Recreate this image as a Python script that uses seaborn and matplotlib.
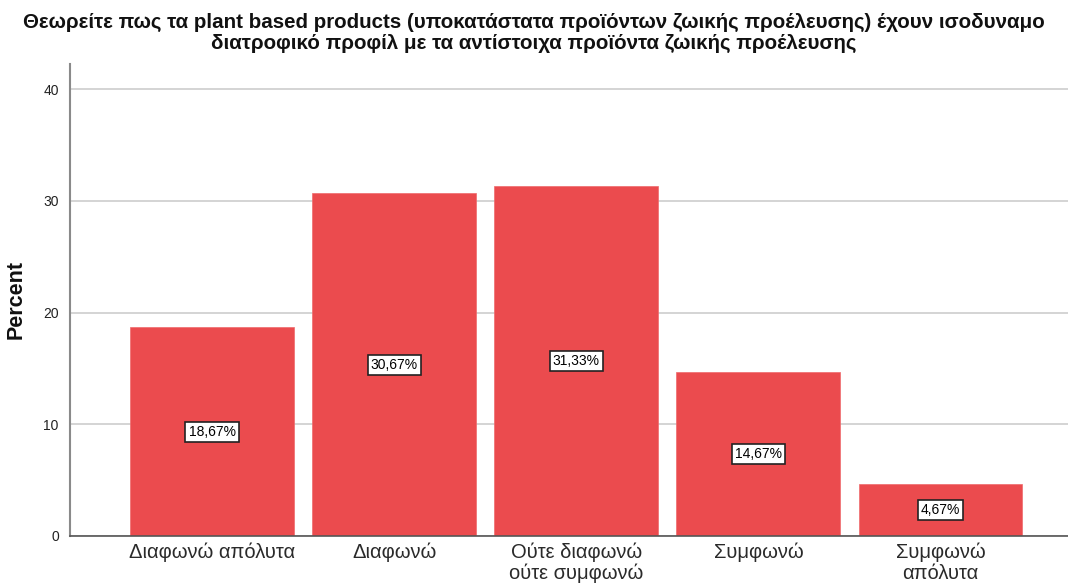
import matplotlib
matplotlib.use("Agg")
import matplotlib.pyplot as plt
import seaborn as sns
import pandas as pd

# Survey responses and their share of respondents (%)
categories = ["Διαφωνώ απόλυτα", "Διαφωνώ", "Ούτε διαφωνώ\nούτε συμφωνώ",
              "Συμφωνώ", "Συμφωνώ\nαπόλυτα"]
percents = [18.67, 30.67, 31.33, 14.67, 4.67]
y_ticks = [0, 10, 20, 30, 40]

title = ("Θεωρείτε πως τα plant based products (υποκατάστατα προϊόντων ζωικής προέλευσης) "
         "έχουν ισοδυναμο\nδιατροφικό προφίλ με τα αντίστοιχα προϊόντα ζωικής προέλευσης")

sns.set_theme(style="white")
plt.rcParams["font.family"] = ["Liberation Sans", "DejaVu Sans"]

df = pd.DataFrame({"category": categories, "percent": percents})

fig = plt.figure(figsize=(10.68, 5.85), dpi=100)
ax = fig.add_axes([0.0655, 0.0838, 0.9345, 0.8068])

sns.barplot(data=df, x="category", y="percent", color="#EB4B4E",
            saturation=1, width=0.9, ax=ax, zorder=2)

for patch in ax.patches:
    patch.set_edgecolor("#EF6A6C")
    patch.set_linewidth(0.5)

ax.set_ylim(0, 42.24)
ax.set_xlim(-0.78, 4.70)
ax.set_yticks(y_ticks)
ax.set_yticklabels([str(t) for t in y_ticks], fontsize=10, color="#222222")
ax.tick_params(axis="x", labelsize=14.5, colors="#2a2a2a", pad=5, length=0)
ax.tick_params(axis="y", length=0, pad=8)
for lbl in ax.get_xticklabels():
    lbl.set_linespacing(1.1)

ax.yaxis.grid(True, color="#D4D4D4", linewidth=1.4, zorder=0)
ax.set_axisbelow(True)

for side in ("top", "right"):
    ax.spines[side].set_visible(False)
ax.spines["left"].set_color("#8A8A8A")
ax.spines["left"].set_linewidth(1.5)
ax.spines["bottom"].set_color("#555555")
ax.spines["bottom"].set_linewidth(1.2)

ax.set_xlabel("")
ax.set_ylabel("Percent", fontsize=15.5, fontweight="bold", labelpad=12,
              color="#111111")

for i, v in enumerate(percents):
    ax.text(i, v / 2, f"{v:.2f}%".replace(".", ","), ha="center", va="center",
            fontsize=10, color="black", zorder=5,
            bbox=dict(boxstyle="square,pad=0.22", facecolor="white",
                      edgecolor="#222222", linewidth=1.2))

fig.text(0.5, 0.977, title, ha="center", va="top", fontsize=14.8,
         fontweight="bold", linespacing=1.12, color="#111111")

fig.savefig("out.png", dpi=100)
